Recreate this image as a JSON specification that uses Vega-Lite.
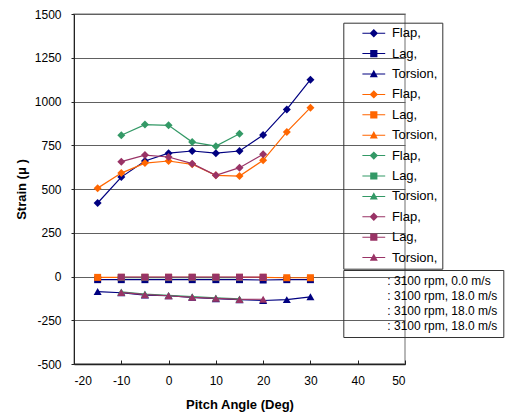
{
  "$schema": "https://vega.github.io/schema/vega-lite/v6.json",
  "autosize": {"type": "none"},
  "padding": {"left": 74, "top": 14, "right": 102, "bottom": 50},
  "width": 331,
  "height": 350,
  "background": "white",
  "config": {
    "view": {"stroke": "#a0a0a0", "strokeWidth": 1.5},
    "axis": {
      "labelFont": "Liberation Sans", "labelFontSize": 12, "labelColor": "#000",
      "titleFont": "Liberation Sans", "titleFontSize": 13, "titleFontWeight": "bold", "titleColor": "#000",
      "gridColor": "#606060", "gridWidth": 1, "domainColor": "#222", "tickColor": "#222"
    }
  },
  "data": {"values": [
    {"series": "A Flap,", "type": "Flap", "cond": "c1", "x": -15, "y": 420},
    {"series": "A Flap,", "type": "Flap", "cond": "c1", "x": -10, "y": 568},
    {"series": "A Flap,", "type": "Flap", "cond": "c1", "x": -5, "y": 660},
    {"series": "A Flap,", "type": "Flap", "cond": "c1", "x": 0, "y": 705},
    {"series": "A Flap,", "type": "Flap", "cond": "c1", "x": 5, "y": 717},
    {"series": "A Flap,", "type": "Flap", "cond": "c1", "x": 10, "y": 705},
    {"series": "A Flap,", "type": "Flap", "cond": "c1", "x": 15, "y": 717},
    {"series": "A Flap,", "type": "Flap", "cond": "c1", "x": 20, "y": 808},
    {"series": "A Flap,", "type": "Flap", "cond": "c1", "x": 25, "y": 955},
    {"series": "A Flap,", "type": "Flap", "cond": "c1", "x": 30, "y": 1125},
    {"series": "A Lag,", "type": "Lag", "cond": "c1", "x": -15, "y": -18},
    {"series": "A Lag,", "type": "Lag", "cond": "c1", "x": -10, "y": -18},
    {"series": "A Lag,", "type": "Lag", "cond": "c1", "x": -5, "y": -18},
    {"series": "A Lag,", "type": "Lag", "cond": "c1", "x": 0, "y": -18},
    {"series": "A Lag,", "type": "Lag", "cond": "c1", "x": 5, "y": -18},
    {"series": "A Lag,", "type": "Lag", "cond": "c1", "x": 10, "y": -18},
    {"series": "A Lag,", "type": "Lag", "cond": "c1", "x": 15, "y": -18},
    {"series": "A Lag,", "type": "Lag", "cond": "c1", "x": 20, "y": -20},
    {"series": "A Lag,", "type": "Lag", "cond": "c1", "x": 25, "y": -18},
    {"series": "A Lag,", "type": "Lag", "cond": "c1", "x": 30, "y": -18},
    {"series": "A Torsion,", "type": "Torsion", "cond": "c1", "x": -15, "y": -86},
    {"series": "A Torsion,", "type": "Torsion", "cond": "c1", "x": -10, "y": -93},
    {"series": "A Torsion,", "type": "Torsion", "cond": "c1", "x": -5, "y": -106},
    {"series": "A Torsion,", "type": "Torsion", "cond": "c1", "x": 0, "y": -110},
    {"series": "A Torsion,", "type": "Torsion", "cond": "c1", "x": 5, "y": -119},
    {"series": "A Torsion,", "type": "Torsion", "cond": "c1", "x": 10, "y": -127},
    {"series": "A Torsion,", "type": "Torsion", "cond": "c1", "x": 15, "y": -133},
    {"series": "A Torsion,", "type": "Torsion", "cond": "c1", "x": 20, "y": -137},
    {"series": "A Torsion,", "type": "Torsion", "cond": "c1", "x": 25, "y": -132},
    {"series": "A Torsion,", "type": "Torsion", "cond": "c1", "x": 30, "y": -116},
    {"series": "B Flap,", "type": "Flap", "cond": "c2", "x": -15, "y": 505},
    {"series": "B Flap,", "type": "Flap", "cond": "c2", "x": -10, "y": 591},
    {"series": "B Flap,", "type": "Flap", "cond": "c2", "x": -5, "y": 648},
    {"series": "B Flap,", "type": "Flap", "cond": "c2", "x": 0, "y": 660},
    {"series": "B Flap,", "type": "Flap", "cond": "c2", "x": 5, "y": 641},
    {"series": "B Flap,", "type": "Flap", "cond": "c2", "x": 10, "y": 578},
    {"series": "B Flap,", "type": "Flap", "cond": "c2", "x": 15, "y": 574},
    {"series": "B Flap,", "type": "Flap", "cond": "c2", "x": 20, "y": 664},
    {"series": "B Flap,", "type": "Flap", "cond": "c2", "x": 25, "y": 826},
    {"series": "B Flap,", "type": "Flap", "cond": "c2", "x": 30, "y": 965},
    {"series": "B Lag,", "type": "Lag", "cond": "c2", "x": -15, "y": -5},
    {"series": "B Lag,", "type": "Lag", "cond": "c2", "x": -10, "y": -5},
    {"series": "B Lag,", "type": "Lag", "cond": "c2", "x": -5, "y": -5},
    {"series": "B Lag,", "type": "Lag", "cond": "c2", "x": 0, "y": -5},
    {"series": "B Lag,", "type": "Lag", "cond": "c2", "x": 5, "y": -5},
    {"series": "B Lag,", "type": "Lag", "cond": "c2", "x": 10, "y": -5},
    {"series": "B Lag,", "type": "Lag", "cond": "c2", "x": 15, "y": -5},
    {"series": "B Lag,", "type": "Lag", "cond": "c2", "x": 20, "y": -5},
    {"series": "B Lag,", "type": "Lag", "cond": "c2", "x": 25, "y": -7},
    {"series": "B Lag,", "type": "Lag", "cond": "c2", "x": 30, "y": -7},
    {"series": "C Flap,", "type": "Flap", "cond": "c3", "x": -10, "y": 807},
    {"series": "C Flap,", "type": "Flap", "cond": "c3", "x": -5, "y": 868},
    {"series": "C Flap,", "type": "Flap", "cond": "c3", "x": 0, "y": 864},
    {"series": "C Flap,", "type": "Flap", "cond": "c3", "x": 5, "y": 768},
    {"series": "C Flap,", "type": "Flap", "cond": "c3", "x": 10, "y": 745},
    {"series": "C Flap,", "type": "Flap", "cond": "c3", "x": 15, "y": 816},
    {"series": "C Lag,", "type": "Lag", "cond": "c3", "x": -10, "y": -6},
    {"series": "C Lag,", "type": "Lag", "cond": "c3", "x": -5, "y": -6},
    {"series": "C Lag,", "type": "Lag", "cond": "c3", "x": 0, "y": -6},
    {"series": "C Lag,", "type": "Lag", "cond": "c3", "x": 5, "y": -6},
    {"series": "C Lag,", "type": "Lag", "cond": "c3", "x": 10, "y": -6},
    {"series": "C Lag,", "type": "Lag", "cond": "c3", "x": 15, "y": -6},
    {"series": "C Torsion,", "type": "Torsion", "cond": "c3", "x": -10, "y": -88},
    {"series": "C Torsion,", "type": "Torsion", "cond": "c3", "x": -5, "y": -100},
    {"series": "C Torsion,", "type": "Torsion", "cond": "c3", "x": 0, "y": -108},
    {"series": "C Torsion,", "type": "Torsion", "cond": "c3", "x": 5, "y": -115},
    {"series": "C Torsion,", "type": "Torsion", "cond": "c3", "x": 10, "y": -122},
    {"series": "C Torsion,", "type": "Torsion", "cond": "c3", "x": 15, "y": -128},
    {"series": "D Flap,", "type": "Flap", "cond": "c4", "x": -10, "y": 656},
    {"series": "D Flap,", "type": "Flap", "cond": "c4", "x": -5, "y": 694},
    {"series": "D Flap,", "type": "Flap", "cond": "c4", "x": 0, "y": 683},
    {"series": "D Flap,", "type": "Flap", "cond": "c4", "x": 5, "y": 645},
    {"series": "D Flap,", "type": "Flap", "cond": "c4", "x": 10, "y": 578},
    {"series": "D Flap,", "type": "Flap", "cond": "c4", "x": 15, "y": 622},
    {"series": "D Flap,", "type": "Flap", "cond": "c4", "x": 20, "y": 698},
    {"series": "D Lag,", "type": "Lag", "cond": "c4", "x": -10, "y": -4},
    {"series": "D Lag,", "type": "Lag", "cond": "c4", "x": -5, "y": -4},
    {"series": "D Lag,", "type": "Lag", "cond": "c4", "x": 0, "y": -4},
    {"series": "D Lag,", "type": "Lag", "cond": "c4", "x": 5, "y": -4},
    {"series": "D Lag,", "type": "Lag", "cond": "c4", "x": 10, "y": -4},
    {"series": "D Lag,", "type": "Lag", "cond": "c4", "x": 15, "y": -4},
    {"series": "D Lag,", "type": "Lag", "cond": "c4", "x": 20, "y": -4},
    {"series": "D Torsion,", "type": "Torsion", "cond": "c4", "x": -10, "y": -91},
    {"series": "D Torsion,", "type": "Torsion", "cond": "c4", "x": -5, "y": -104},
    {"series": "D Torsion,", "type": "Torsion", "cond": "c4", "x": 0, "y": -110},
    {"series": "D Torsion,", "type": "Torsion", "cond": "c4", "x": 5, "y": -119},
    {"series": "D Torsion,", "type": "Torsion", "cond": "c4", "x": 10, "y": -125},
    {"series": "D Torsion,", "type": "Torsion", "cond": "c4", "x": 15, "y": -131},
    {"series": "D Torsion,", "type": "Torsion", "cond": "c4", "x": 20, "y": -130}
  ]},
  "encoding": {
    "x": {
      "field": "x", "type": "quantitative",
      "scale": {"domain": [-20, 50], "nice": false},
      "axis": {"title": "Pitch Angle (Deg)", "values": [-20, -10, 0, 10, 20, 30, 40, 50], "labelExpr": "'' + datum.value", "grid": false, "tickSize": -4, "labelPadding": 15, "titlePadding": 12, "domainWidth": 1.5}
    },
    "y": {
      "field": "y", "type": "quantitative",
      "scale": {"domain": [-500, 1500], "nice": false},
      "axis": {"title": "Strain (μ  )", "values": [-500, -250, 0, 250, 500, 750, 1000, 1250, 1500], "labelExpr": "'' + datum.value", "tickSize": 3, "labelPadding": 10, "titlePadding": 6}
    },
    "color": {
      "field": "series", "type": "nominal",
      "scale": {
        "domain": ["A Flap,", "A Lag,", "A Torsion,", "B Flap,", "B Lag,", "B Torsion,", "C Flap,", "C Lag,", "C Torsion,", "D Flap,", "D Lag,", "D Torsion,"],
        "range": ["#000080", "#000080", "#000080", "#FF6600", "#FF6600", "#FF6600", "#339966", "#339966", "#339966", "#993366", "#993366", "#993366"]
      },
      "legend": {
        "orient": "none", "legendX": 269.3, "legendY": 8.7, "title": null,
        "labelExpr": "slice(datum.value, 2) + '\u00a0\u00a0\u00a0\u00a0\u00a0\u00a0\u00a0\u00a0\u00a0\u00a0\u00a0\u00a0\u00a0\u00a0\u00a0\u00a0\u00a0\u00a0'",
        "labelFont": "Liberation Sans", "labelFontSize": 13, "labelColor": "#000",
        "symbolSize": 64, "symbolStrokeWidth": 0, "symbolOffset": 20, "labelOffset": 11.6,
        "padding": 4, "rowPadding": 6.4, "strokeColor": "#333"
      }
    }
  },
  "layer": [
    {"mark": {"type": "line", "strokeWidth": 1.2}},
    {"transform": [{"filter": "datum.type == 'Lag'"}], "mark": {"type": "point", "filled": true, "opacity": 1, "shape": "square", "size": 49}},
    {"transform": [{"filter": "datum.type == 'Torsion'"}], "mark": {"type": "point", "filled": true, "opacity": 1, "shape": "triangle-up", "size": 64}},
    {"transform": [{"filter": "datum.type == 'Flap'"}], "mark": {"type": "point", "filled": true, "opacity": 1, "shape": "diamond", "size": 64}},
    {
      "mark": {"type": "point", "filled": true, "opacity": 0},
      "encoding": {
        "shape": {
          "field": "series", "type": "nominal",
          "scale": {
            "domain": ["A Flap,", "A Lag,", "A Torsion,", "B Flap,", "B Lag,", "B Torsion,", "C Flap,", "C Lag,", "C Torsion,", "D Flap,", "D Lag,", "D Torsion,"],
            "range": [
              "M-2.85,-0.13H2.85V0.13H-2.85Z M0,-1.05L1.05,0L0,1.05L-1.05,0Z",
              "M-2.85,-0.13H2.85V0.13H-2.85Z M-0.9,-0.9H0.9V0.9H-0.9Z",
              "M-2.85,-0.13H2.85V0.13H-2.85Z M0,-1.05L1,0.8H-1Z",
              "M-2.85,-0.13H2.85V0.13H-2.85Z M0,-1.05L1.05,0L0,1.05L-1.05,0Z",
              "M-2.85,-0.13H2.85V0.13H-2.85Z M-0.9,-0.9H0.9V0.9H-0.9Z",
              "M-2.85,-0.13H2.85V0.13H-2.85Z M0,-1.05L1,0.8H-1Z",
              "M-2.85,-0.13H2.85V0.13H-2.85Z M0,-1.05L1.05,0L0,1.05L-1.05,0Z",
              "M-2.85,-0.13H2.85V0.13H-2.85Z M-0.9,-0.9H0.9V0.9H-0.9Z",
              "M-2.85,-0.13H2.85V0.13H-2.85Z M0,-1.05L1,0.8H-1Z",
              "M-2.85,-0.13H2.85V0.13H-2.85Z M0,-1.05L1.05,0L0,1.05L-1.05,0Z",
              "M-2.85,-0.13H2.85V0.13H-2.85Z M-0.9,-0.9H0.9V0.9H-0.9Z",
              "M-2.85,-0.13H2.85V0.13H-2.85Z M0,-1.05L1,0.8H-1Z"
            ]
          },
          "legend": {
            "orient": "none", "legendX": 269.3, "legendY": 8.7, "title": null,
            "labelExpr": "slice(datum.value, 2) + '\u00a0\u00a0\u00a0\u00a0\u00a0\u00a0\u00a0\u00a0\u00a0\u00a0\u00a0\u00a0\u00a0\u00a0\u00a0\u00a0\u00a0\u00a0'",
            "labelFont": "Liberation Sans", "labelFontSize": 13, "labelColor": "#000",
            "symbolSize": 64, "symbolStrokeWidth": 0, "symbolOffset": 20, "labelOffset": 11.6,
            "padding": 4, "rowPadding": 6.4, "strokeColor": "#333"
          }
        },
        "size": {
          "field": "cond", "type": "ordinal",
          "scale": {"domain": ["c1", "c2", "c3", "c4"], "range": [64, 64, 64, 64]},
          "legend": {
            "orient": "none", "legendX": 269.3, "legendY": 256, "title": null,
            "labelExpr": "datum.value == 'c1' ? ': 3100 rpm, 0.0 m/s' : ': 3100 rpm, 18.0 m/s'",
            "labelFont": "Liberation Sans", "labelFontSize": 12, "labelColor": "#000",
            "symbolOpacity": 0, "symbolSize": 4, "symbolOffset": -6, "labelOffset": 33,
            "padding": 5, "rowPadding": 3, "strokeColor": "#333",
            "encode": {"labels": {"dx": {"condition": {"test": "datum.value == 'c1'", "value": -12}, "value": 0}}}
          }
        }
      }
    }
  ]
}
